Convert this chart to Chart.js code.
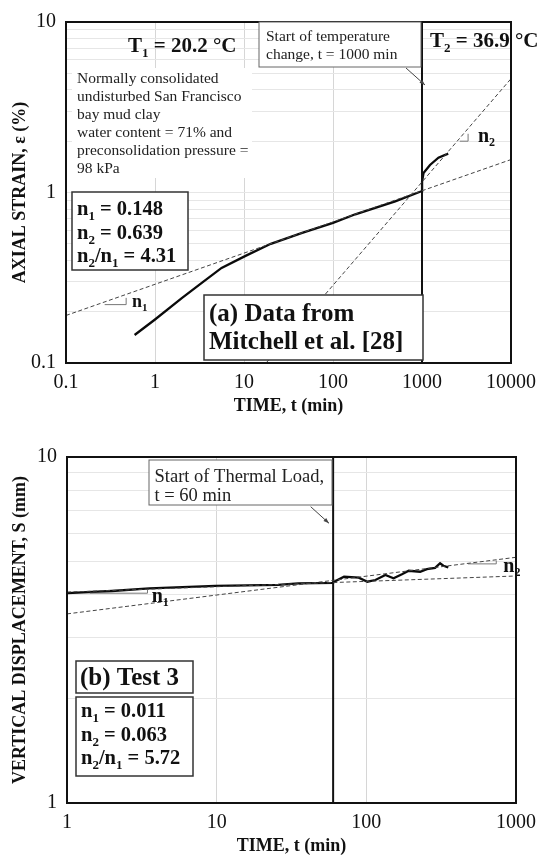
<!DOCTYPE html>
<html>
<head>
<meta charset="utf-8">
<script src="https://cdn.jsdelivr.net/npm/chart.js@4.4.0/dist/chart.umd.min.js"></script>
<style>
  body { margin: 0; background: #fff; }
  canvas { display: block; }
</style>
</head>
<body>
<canvas id="strainChart" width="544" height="420"></canvas>
<canvas id="dispChart" width="544" height="441"></canvas>
<script>
// (a) Mitchell et al. [28] - axial strain (%) vs time (min)
const timeA = [0.59, 1, 2, 3.5, 5.6, 10.4, 20, 45, 100, 178, 500, 1000, 1002, 1040, 1230, 1530, 1970];
const strainA = [0.146, 0.18, 0.24, 0.30, 0.361, 0.425, 0.50, 0.58, 0.663, 0.745, 0.887, 1.02, 1.16, 1.30, 1.45, 1.60, 1.69];
const fitN1TimeA = [0.1, 10000];
const fitN1StrainA = [0.19, 1.56];
const fitN2TimeA = [17.7, 10000];
const fitN2StrainA = [0.1, 4.65];
const slopeN1TimeA = [0.272, 0.474, 0.474];
const slopeN1StrainA = [0.22, 0.22, 0.241];
const slopeN2TimeA = [2655, 3295, 3295];
const slopeN2StrainA = [2.0, 2.0, 2.21];
const tempChangeTime = 1000;
const xTicksA = [0.1, 1, 10, 100, 1000, 10000];
const yTicksA = [0.1, 0.2, 0.3, 0.4, 0.5, 0.6, 0.7, 0.8, 0.9, 1, 2, 3, 4, 5, 6, 7, 8, 9, 10];
const yLabelsA = [0.1, 1, 10];

// (b) Test 3 - vertical displacement (mm) vs time (min)
const timeB = [1, 2, 3.55, 9.8, 25.7, 35, 60, 61, 71, 89, 101.6, 115, 134, 152, 173, 192, 229, 254, 288, 311, 327, 353];
const dispB = [4.04, 4.10, 4.17, 4.24, 4.27, 4.31, 4.33, 4.36, 4.51, 4.48, 4.36, 4.41, 4.56, 4.46, 4.58, 4.69, 4.66, 4.74, 4.78, 4.93, 4.85, 4.80];
const fitN1TimeB = [1, 1000];
const fitN1DispB = [4.07, 4.53];
const fitN2TimeB = [1, 1000];
const fitN2DispB = [3.52, 5.13];
const slopeN1TimeB = [1.42, 3.45, 3.45];
const slopeN1DispB = [4.04, 4.04, 4.15];
const slopeN2TimeB = [478, 738, 738];
const slopeN2DispB = [4.91, 4.91, 5.02];
const thermalLoadTime = 60;
const xTicksB = [1, 10, 100, 1000];
const yTicksB = [1, 2, 3, 4, 5, 6, 7, 8, 9, 10];
const yLabelsB = [1, 10];

const FONT = '"Liberation Serif", "Times New Roman", serif';
function serif(size, bold) { return (bold ? 'bold ' : '') + size + 'px ' + FONT; }
function pts(xs, ys) { return xs.map((x, i) => ({ x: x, y: ys[i] })); }

// "_x" marks a one character subscript
function richText(ctx, str, x, y, size, bold, color) {
  const parts = str.split(/_(.)/);
  let cx = x;
  ctx.fillStyle = color || '#111';
  ctx.textBaseline = 'alphabetic';
  ctx.textAlign = 'left';
  parts.forEach((p, i) => {
    const sub = i % 2 === 1;
    ctx.font = serif(sub ? Math.round(size * 0.62) : size, bold);
    ctx.fillText(p, cx, sub ? y + size * 0.22 : y);
    cx += ctx.measureText(p).width;
  });
}

function box(ctx, x, y, w, h, color, lw) {
  ctx.fillStyle = '#fff';
  ctx.fillRect(x, y, w, h);
  ctx.strokeStyle = color;
  ctx.lineWidth = lw;
  ctx.strokeRect(x, y, w, h);
}

function arrow(ctx, x1, y1, x2, y2) {
  ctx.strokeStyle = '#444';
  ctx.fillStyle = '#444';
  ctx.lineWidth = 1;
  ctx.beginPath();
  ctx.moveTo(x1, y1);
  ctx.lineTo(x2, y2);
  ctx.stroke();
  const a = Math.atan2(y2 - y1, x2 - x1);
  ctx.beginPath();
  ctx.moveTo(x2, y2);
  ctx.lineTo(x2 - 6 * Math.cos(a - 0.35), y2 - 6 * Math.sin(a - 0.35));
  ctx.lineTo(x2 - 6 * Math.cos(a + 0.35), y2 - 6 * Math.sin(a + 0.35));
  ctx.closePath();
  ctx.fill();
}

function frame(chart) {
  const a = chart.chartArea, ctx = chart.ctx;
  ctx.strokeStyle = '#111';
  ctx.lineWidth = 2;
  ctx.strokeRect(a.left, a.top, a.width, a.height);
}

function datasets(curveX, curveY, f1x, f1y, f2x, f2y, s1x, s1y, s2x, s2y, vTime, yMin, yMax) {
  const dashed = { borderColor: '#444', borderWidth: 1, borderDash: [4, 2.5] };
  const marker = { borderColor: '#777', borderWidth: 1 };
  return [
    Object.assign({ data: pts(f1x, f1y) }, dashed),
    Object.assign({ data: pts(f2x, f2y) }, dashed),
    Object.assign({ data: pts(s1x, s1y) }, marker),
    Object.assign({ data: pts(s2x, s2y) }, marker),
    { data: [{ x: vTime, y: yMin }, { x: vTime, y: yMax }], borderColor: '#111', borderWidth: 2 },
    { data: pts(curveX, curveY), borderColor: '#0a0a0a', borderWidth: 2.3 }
  ];
}

function scales(xMin, xMax, xTicks, yMin, yMax, yTicks, yLabels, yTitle, xTitlePad, yWidth, xHeight) {
  return {
    x: {
      type: 'logarithmic', min: xMin, max: xMax,
      afterBuildTicks: s => { s.ticks = xTicks.map(v => ({ value: v })); },
      afterFit: s => { s.height = xHeight; },
      grid: { color: '#d6d6d6', drawTicks: false },
      border: { display: false },
      ticks: { autoSkip: false, maxRotation: 0, padding: 8, color: '#111',
        font: { family: FONT, size: 20 }, callback: v => String(v) },
      title: { display: true, text: 'TIME, t (min)', color: '#111',
        font: { family: FONT, size: 18, weight: 'bold' }, padding: xTitlePad }
    },
    y: {
      type: 'logarithmic', min: yMin, max: yMax,
      afterBuildTicks: s => { s.ticks = yTicks.map(v => ({ value: v })); },
      afterFit: s => { s.width = yWidth; },
      grid: { color: '#e6e6e6', drawTicks: false },
      border: { display: false },
      ticks: { autoSkip: false, padding: 10, color: '#111',
        font: { family: FONT, size: 20 }, callback: v => yLabels.includes(v) ? String(v) : '' },
      title: { display: true, text: yTitle, color: '#111',
        font: { family: FONT, size: 18, weight: 'bold' }, padding: 10 }
    }
  };
}

const common = {
  responsive: false,
  animation: false,
  devicePixelRatio: 1,
  showLine: true,
  elements: { point: { radius: 0 }, line: { tension: 0 } },
  plugins: { legend: { display: false }, tooltip: { enabled: false } }
};

const notesA = {
  id: 'notesA',
  beforeDatasetsDraw(chart) {
    const ctx = chart.ctx;
    ctx.fillStyle = '#fff';
    ctx.fillRect(72, 68, 180, 110);
  },
  afterDatasetsDraw(chart) {
    const ctx = chart.ctx;
    frame(chart);
    box(ctx, 259, 22, 162, 45, '#666', 1);
    richText(ctx, 'Start of temperature', 266, 41, 15.5, false, '#222');
    richText(ctx, 'change, t = 1000 min', 266, 59, 15.5, false, '#222');
    arrow(ctx, 406, 68, 425, 85);
    richText(ctx, 'T_1 = 20.2 °C', 128, 52, 21, true);
    richText(ctx, 'T_2 = 36.9 °C', 430, 47, 21, true);
    ['Normally consolidated', 'undisturbed San Francisco', 'bay mud clay',
     'water content = 71% and', 'preconsolidation pressure =', '98 kPa'].forEach((t, i) => {
      richText(ctx, t, 77, 83 + i * 18, 15.5, false, '#222');
    });
    box(ctx, 72, 192, 116, 78, '#333', 1.5);
    richText(ctx, 'n_1 = 0.148', 77, 215, 20.5, true);
    richText(ctx, 'n_2 = 0.639', 77, 239, 20.5, true);
    richText(ctx, 'n_2/n_1 = 4.31', 77, 262, 20.5, true);
    box(ctx, 204, 295, 219, 65, '#333', 1.5);
    richText(ctx, '(a) Data from', 209, 321, 25, true);
    richText(ctx, 'Mitchell et al. [28]', 209, 349, 25, true);
    richText(ctx, 'n_1', 132, 307, 18, true);
    richText(ctx, 'n_2', 478, 142, 20, true);
  }
};

const notesB = {
  id: 'notesB',
  afterDatasetsDraw(chart) {
    const ctx = chart.ctx;
    frame(chart);
    box(ctx, 149, 40, 183, 45, '#666', 1);
    richText(ctx, 'Start of Thermal Load,', 154.5, 61.5, 18.5, false, '#222');
    richText(ctx, 't = 60 min', 154.5, 81, 18.5, false, '#222');
    arrow(ctx, 310.7, 86.7, 329, 103.3);
    box(ctx, 76, 241, 117, 32, '#333', 1.5);
    richText(ctx, '(b) Test 3', 80, 265, 25, true);
    box(ctx, 76, 277, 117, 79, '#333', 1.5);
    richText(ctx, 'n_1 = 0.011', 81, 297, 20.5, true);
    richText(ctx, 'n_2 = 0.063', 81, 321, 20.5, true);
    richText(ctx, 'n_2/n_1 = 5.72', 81, 344, 20.5, true);
    richText(ctx, 'n_1', 151.7, 181.7, 20, true);
    richText(ctx, 'n_2', 503.3, 152, 20, true);
  }
};

new Chart(document.getElementById('strainChart'), {
  type: 'scatter',
  data: { datasets: datasets(timeA, strainA, fitN1TimeA, fitN1StrainA, fitN2TimeA, fitN2StrainA,
    slopeN1TimeA, slopeN1StrainA, slopeN2TimeA, slopeN2StrainA, tempChangeTime, 0.1, 10) },
  options: Object.assign({}, common, {
    layout: { padding: { top: 19, right: 29, left: 0, bottom: 0 } },
    scales: scales(0.1, 10000, xTicksA, 0.1, 10, yTicksA, yLabelsA, 'AXIAL STRAIN, ε (%)', 3, 66, 57)
  }),
  plugins: [notesA]
});

new Chart(document.getElementById('dispChart'), {
  type: 'scatter',
  data: { datasets: datasets(timeB, dispB, fitN1TimeB, fitN1DispB, fitN2TimeB, fitN2DispB,
    slopeN1TimeB, slopeN1DispB, slopeN2TimeB, slopeN2DispB, thermalLoadTime, 1, 10) },
  options: Object.assign({}, common, {
    layout: { padding: { top: 37, right: 24, left: 0, bottom: 0 } },
    scales: scales(1, 1000, xTicksB, 1, 10, yTicksB, yLabelsB, 'VERTICAL DISPLACEMENT, S (mm)', 4, 67, 58)
  }),
  plugins: [notesB]
});
</script>
</body>
</html>
